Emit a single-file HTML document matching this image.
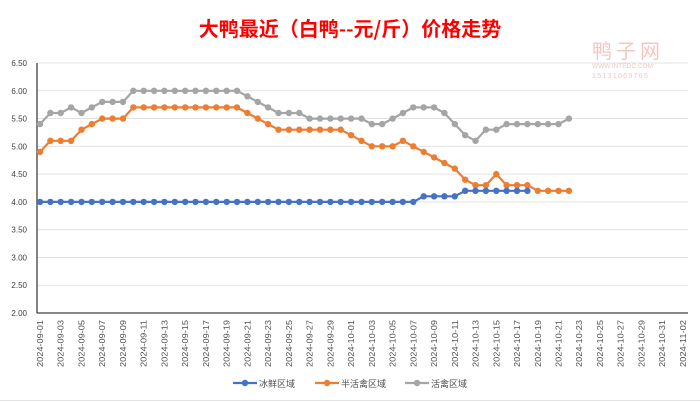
<!DOCTYPE html>
<html><head><meta charset="utf-8"><style>
body{margin:0;background:#fff;}
svg{display:block;font-family:"Liberation Sans","Noto Sans CJK SC",sans-serif;}
</style></head><body>
<svg id="c" width="700" height="402" viewBox="0 0 700 402">
<rect width="700" height="402" fill="#fff"/>
<line x1="0" y1="400.5" x2="700" y2="400.5" stroke="#e4e4e4"/>
<text x="350" y="36" text-anchor="middle" font-size="20" font-weight="bold" fill="#ff0000" font-family="'Noto Sans CJK SC',sans-serif">大鸭最近（白鸭--元/斤）价格走势</text>
<text x="592" y="58" font-size="20" fill="#f6c6c0" font-family="'Noto Sans CJK SC',sans-serif" letter-spacing="4">鸭子网</text>
<text x="592" y="68" font-size="6.5" fill="#f6c6c0">WWW.INTEDC.COM</text>
<text x="592" y="78" font-size="7.5" fill="#f6c6c0" letter-spacing="1">15131069765</text>
<g id="g"></g>
</svg>
<script>
var g=document.getElementById('g'),h='';
function Y(v){return 313-(v-2)*250/4.5;}
function X(i){return 40+i*10.37;}
for(var k=0;k<=9;k++){var v=2+k*0.5,y=Y(v);
 if(k>0)h+='<line x1="37" y1="'+y+'" x2="688" y2="'+y+'" stroke="#e3e3e3" stroke-width="1"/>';
 h+='<text x="27" y="'+(y+3)+'" font-size="8" text-anchor="end" fill="#404040">'+v.toFixed(2)+'</text>';}
h+='<line x1="37" y1="63" x2="37" y2="313" stroke="#404040" stroke-width="1.3"/>';
h+='<line x1="37" y1="313" x2="688" y2="313" stroke="#404040" stroke-width="1.3"/>';
for(var i=0;i<=62;i+=2){var d=new Date(2024,8,1+i);var s='2024-'+String(d.getMonth()+1).padStart(2,'0')+'-'+String(d.getDate()).padStart(2,'0');
 var x=X(i)+3;h+='<text transform="translate('+x+',367) rotate(-90)" font-size="8.6" fill="#505050" textLength="47" lengthAdjust="spacingAndGlyphs">'+s+'</text>';}
var blue=[],orange,gray;
for(var i=0;i<=47;i++)blue.push(i<=36?4.0:(i<=40?4.1:4.2));
orange=[4.9,5.1,5.1,5.1,5.3,5.4,5.5,5.5,5.5,5.7,5.7,5.7,5.7,5.7,5.7,5.7,5.7,5.7,5.7,5.7,5.6,5.5,5.4,5.3,5.3,5.3,5.3,5.3,5.3,5.3,5.2,5.1,5.0,5.0,5.0,5.1,5.0,4.9,4.8,4.7,4.6,4.4,4.3,4.3,4.5,4.3,4.3,4.3,4.2,4.2,4.2,4.2];
gray=[5.4,5.6,5.6,5.7,5.6,5.7,5.8,5.8,5.8,6.0,6.0,6.0,6.0,6.0,6.0,6.0,6.0,6.0,6.0,6.0,5.9,5.8,5.7,5.6,5.6,5.6,5.5,5.5,5.5,5.5,5.5,5.5,5.4,5.4,5.5,5.6,5.7,5.7,5.7,5.6,5.4,5.2,5.1,5.3,5.3,5.4,5.4,5.4,5.4,5.4,5.4,5.5];
function ser(a,c){var p=a.map(function(v,i){return X(i).toFixed(1)+','+Y(v).toFixed(1)}).join(' ');
 var s='<polyline points="'+p+'" fill="none" stroke="'+c+'" stroke-width="2.2" stroke-linejoin="round"/>';
 a.forEach(function(v,i){s+='<circle cx="'+X(i).toFixed(1)+'" cy="'+Y(v).toFixed(1)+'" r="3.2" fill="'+c+'"/>'});return s;}
h+=ser(gray,'#a5a5a5')+ser(orange,'#ed7d31')+ser(blue,'#4472c4');
var L=[['冰鲜区域','#4472c4',233],['半活禽区域','#ed7d31',315],['活禽区域','#a5a5a5',405]];
L.forEach(function(l){h+='<line x1="'+l[2]+'" y1="383" x2="'+(l[2]+24)+'" y2="383" stroke="'+l[1]+'" stroke-width="2.2"/><circle cx="'+(l[2]+12)+'" cy="383" r="3.2" fill="'+l[1]+'"/><text x="'+(l[2]+26)+'" y="387" font-size="9" fill="#505050">'+l[0]+'</text>';});
g.innerHTML=h;
</script>
</body></html>
